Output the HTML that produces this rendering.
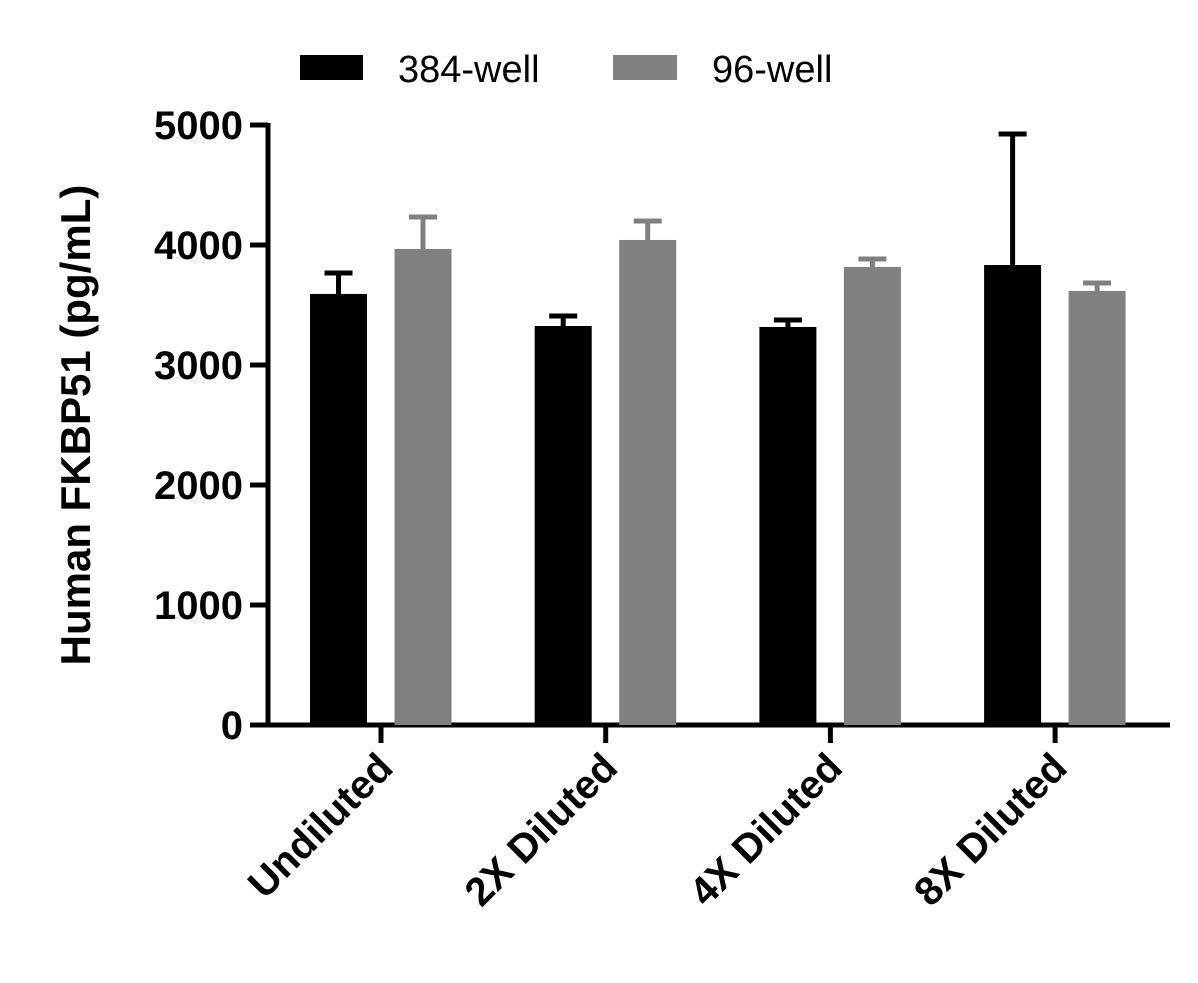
<!DOCTYPE html>
<html><head><meta charset="utf-8"><style>
body{margin:0;background:#fff;}
svg{display:block;font-family:"Liberation Sans",sans-serif;}
</style></head><body>
<svg id="c" width="1198" height="983"></svg>
<script>
const categories=["Undiluted","2X Diluted","4X Diluted","8X Diluted"];
const series384=[3592,3325,3317,3833];
const err384=[3783,3425,3392,4942];
const series96=[3967,4042,3817,3617];
const err96=[4250,4217,3900,3700];
const yTicks=[0,1000,2000,3000,4000,5000];
const ns="http://www.w3.org/2000/svg";
const svg=document.getElementById("c");
function y(v){return 725-v*0.12;}
function xc(i){return 381+i*224.7;}
function mk(tag,attrs,text){const e=document.createElementNS(ns,tag);for(const k in attrs)e.setAttribute(k,attrs[k]);if(text!==undefined)e.textContent=text;svg.appendChild(e);return e;}
// axes
let e=mk("line",{x1:268,y1:y(5000)-2,x2:268,y2:727,stroke:"#000","stroke-width":5});


e=mk("line",{x1:250,y1:725,x2:1170,y2:725,stroke:"#000","stroke-width":5});


yTicks.forEach(t=>{
 let l=mk("line",{x1:250,y1:y(t),x2:268,y2:y(t),stroke:"#000","stroke-width":5});
 
 
 let tx=mk("text",{x:243,y:y(t)+14,"text-anchor":"end","font-size":40,"font-weight":"bold"},String(t));
 
 
});
categories.forEach((c,i)=>{
 const cx=xc(i);
 let l=mk("line",{x1:cx,y1:725,x2:cx,y2:743,stroke:"#000","stroke-width":5});
 
 
 // error bars
 [[series384,err384,cx-42.5,"#000"],[series96,err96,cx+42,"#808080"]].forEach(([s,er,bx,col],k)=>{
  let w=mk("line",{x1:bx,y1:y(er[i]),x2:bx,y2:y(s[i]),stroke:col,"stroke-width":5});
  
  
  let cap=mk("line",{x1:bx-14,y1:y(er[i])+2,x2:bx+14,y2:y(er[i])+2,stroke:col,"stroke-width":5});
  
  
  let r=mk("rect",{x:bx-28.5,y:y(s[i]),width:57,height:725-y(s[i]),fill:col});
  
  
 });
 let tx=mk("text",{x:0,y:0,"text-anchor":"end","font-size":40,"font-weight":"bold",transform:`translate(${cx+14},${770}) rotate(-45)`},c);
 
 
});
e=mk("text",{x:0,y:0,"text-anchor":"middle","font-size":42,"font-weight":"bold",transform:"translate(90,425) rotate(-90)"},"Human FKBP51 (pg/mL)");


e=mk("rect",{x:300,y:55,width:63,height:25,fill:"#000"});


e=mk("text",{x:398,y:82,"font-size":38},"384-well");


e=mk("rect",{x:613,y:55,width:64,height:25,fill:"#808080"});


e=mk("text",{x:712,y:82,"font-size":38},"96-well");


</script>
</body></html>
